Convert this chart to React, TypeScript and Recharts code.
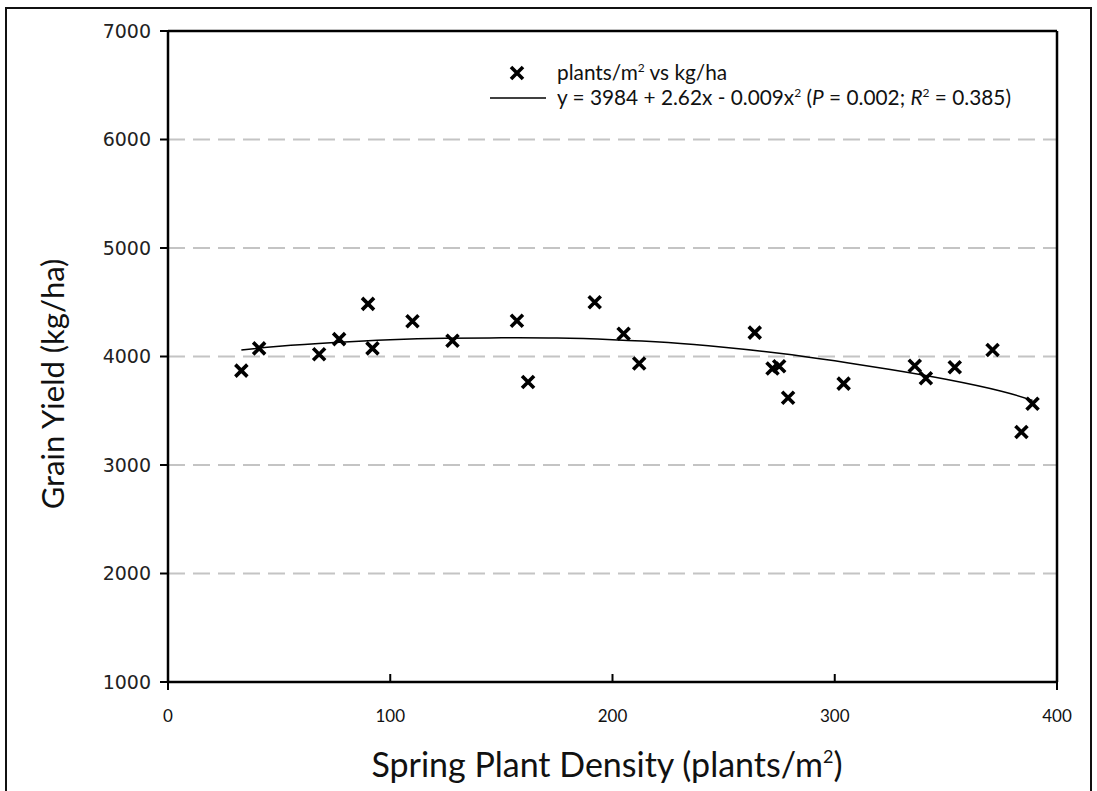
import React from 'react';
import { ComposedChart, Scatter, Line, XAxis, YAxis, CartesianGrid, ReferenceLine } from 'recharts';

const density = [33, 41, 68, 77, 90, 92, 110, 128, 157, 162, 192, 205, 212, 264, 272, 275, 279, 304, 336, 341, 354, 371, 384, 389];
const yieldKg = [3870, 4075, 4020, 4160, 4485, 4075, 4325, 4145, 4330, 3765, 4500, 4210, 3935, 4220, 3890, 3910, 3620, 3750, 3915, 3800, 3900, 4060, 3305, 3565];
const fitX = [33, 50, 75, 100, 125, 150, 175, 200, 225, 250, 275, 300, 325, 350, 375, 389];
const fitY = [4060, 4095, 4130, 4155, 4168, 4172, 4170, 4155, 4128, 4085, 4030, 3960, 3880, 3790, 3680, 3595];
const xTicks = [0, 100, 200, 300, 400];
const yTicks = [1000, 2000, 3000, 4000, 5000, 6000, 7000];
const xMax = 400;
const yMax = 7000;

const points = density.map((d, i) => ({ x: d, y: yieldKg[i] }));
const fit = fitX.map((d, i) => ({ x: d, y: fitY[i] }));

const Cross = (props: any) => {
  const { cx, cy } = props;
  const s = 6;
  return (
    <path
      d={`M${cx - s},${cy - s}L${cx + s},${cy + s}M${cx - s},${cy + s}L${cx + s},${cy - s}`}
      stroke="#000"
      strokeWidth={3.6}
      fill="none"
    />
  );
};

const XTick = (props: any) => {
  const { x, y, payload } = props;
  const v = payload.value;
  const edge = v === 0 || v === 400;
  return (
    <g>
      {edge ? (
        <line x1={x} x2={x} y1={y} y2={y + 8} stroke="#000" strokeWidth={2} />
      ) : (
        <line x1={x} x2={x} y1={y} y2={y - 8} stroke="#000" strokeWidth={2} />
      )}
      <text x={x} y={y + 40} textAnchor="middle" fontFamily="Lato" fontSize={17} fill="#111">
        {v}
      </text>
    </g>
  );
};

const XTitle = () => (
  <text x={607} y={777} textAnchor="middle" fontFamily="Lato" fontSize={34} fill="#111">
    Spring Plant Density (plants/m<tspan fontSize={18} dy={-14}>2</tspan>
    <tspan dy={14}>)</tspan>
  </text>
);

const YTitle = () => (
  <text
    x={52}
    y={384}
    transform="rotate(-90, 52, 384)"
    textAnchor="middle"
    dominantBaseline="central"
    fontFamily="Lato"
    fontSize={31}
    fill="#111"
  >
    Grain Yield (kg/ha)
  </text>
);

const LegendBox = () => (
  <svg width={600} height={60} style={{ display: 'block' }}>
    <path d="M31,12L43,24M31,24L43,12" stroke="#000" strokeWidth={3.6} fill="none" />
    <text x={77} y={25} fontFamily="Lato" fontSize={20.8} fill="#111">
      plants/m<tspan fontSize={12} dy={-8}>2</tspan>
      <tspan dy={8}> vs kg/ha</tspan>
    </text>
    <line x1={10} x2={66} y1={43} y2={43} stroke="#000" strokeWidth={1.3} />
    <text x={77} y={50} fontFamily="Lato" fontSize={20.8} fill="#111">
      y = 3984 + 2.62x - 0.009x<tspan fontSize={12} dy={-8}>2</tspan>
      <tspan dy={8}> (</tspan>
      <tspan fontStyle="italic">P</tspan>
      <tspan> = 0.002; </tspan>
      <tspan fontStyle="italic">R</tspan>
      <tspan fontSize={12} dy={-8}>2</tspan>
      <tspan dy={8}> = 0.385)</tspan>
    </text>
  </svg>
);

export default function App() {
  return (
    <div style={{ position: 'fixed', left: 0, top: 0, width: 1097, height: 791, background: '#fff' }}>
      <div
        style={{
          position: 'absolute',
          left: 5,
          top: 7,
          width: 1087,
          height: 820,
          border: '2.5px solid #111',
          boxSizing: 'border-box',
        }}
      />
      <div style={{ position: 'absolute', left: 0, top: 0 }}>
        <ComposedChart width={1097} height={791} margin={{ top: 31, right: 40, left: 0, bottom: 49 }}>
          <CartesianGrid vertical={false} stroke="#c4c4c4" strokeWidth={2} strokeDasharray="17 8" />
          <XAxis
            dataKey="x"
            type="number"
            domain={[0, 400]}
            ticks={xTicks}
            height={60}
            tickSize={0}
            tickMargin={0}
            tick={<XTick />}
            axisLine={{ stroke: '#000', strokeWidth: 2.5 }}
            tickLine={false}
            label={<XTitle />}
          />
          <YAxis
            dataKey="y"
            type="number"
            domain={[1000, 7000]}
            ticks={yTicks}
            width={168}
            tickSize={8}
            tickMargin={9}
            axisLine={{ stroke: '#000', strokeWidth: 2.5 }}
            tickLine={{ stroke: '#000', strokeWidth: 2 }}
            tick={{ fontFamily: 'DejaVu Sans', fontSize: 19, fill: '#222' }}
            label={<YTitle />}
          />
          <ReferenceLine y={yMax} stroke="#000" strokeWidth={2.5} />
          <ReferenceLine x={xMax} stroke="#000" strokeWidth={2.5} />
          <Line
            data={fit}
            dataKey="y"
            type="natural"
            stroke="#000"
            strokeWidth={1.5}
            dot={false}
            isAnimationActive={false}
            legendType="none"
          />
          <Scatter data={points} dataKey="y" shape={<Cross />} isAnimationActive={false} />
        </ComposedChart>
      </div>
      <div style={{ position: 'absolute', left: 480, top: 55 }}>
        <LegendBox />
      </div>
    </div>
  );
}
